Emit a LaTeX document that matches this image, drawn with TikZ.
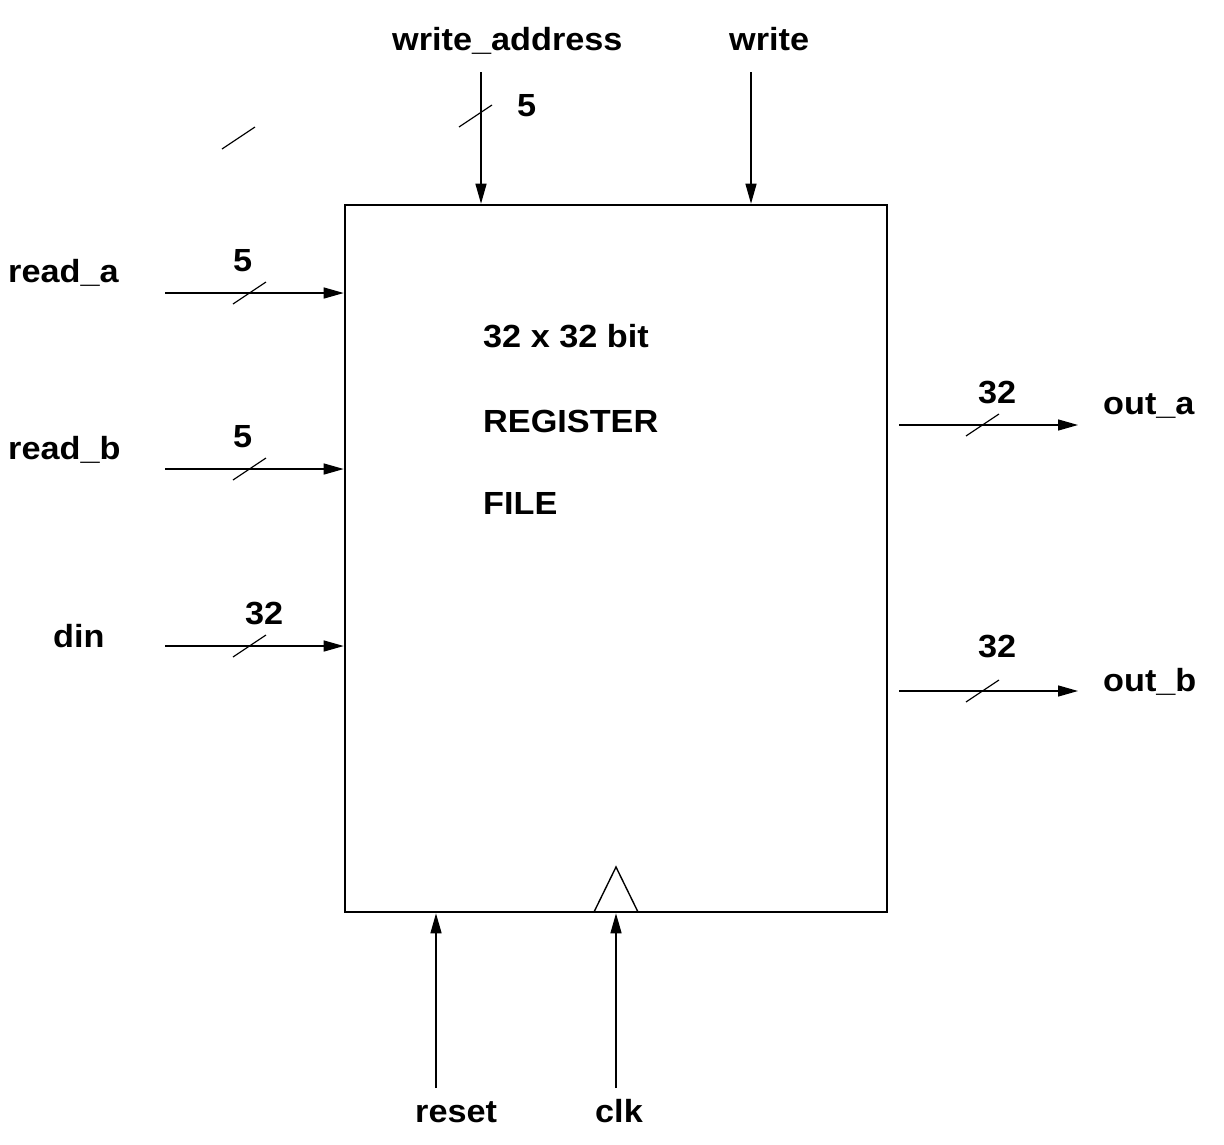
\documentclass[tikz,border=0pt]{standalone}
\usepackage{fontspec}
\setmainfont{Liberation Sans}[FakeStretch=1.07]
\usetikzlibrary{arrows.meta}
\begin{document}
\begin{tikzpicture}[x=1pt,y=-1pt,
  lbl/.style={anchor=base west,inner sep=0pt,font=\fontsize{32}{38}\selectfont\bfseries},
  sig/.style={line width=1.4pt,-{Triangle[length=20pt,width=11pt]}},
  bus/.style={line width=1.2pt},
  blk/.style={draw,line width=2.6pt,rectangle,minimum width=542pt,minimum height=707pt,inner sep=0pt}]
\useasboundingbox (0,0) rectangle (1224,1144);
\node[blk] (box) at (616,558.5) {};
% inner texts
\node[lbl] (t1) at (483,347) {32 x 32 bit};
\node[lbl] (t2) at (483,432) {REGISTER};
\node[lbl] (t3) at (483,514) {FILE};
% top inputs
\coordinate (wa) at (481,72);
\coordinate (wr) at (751,72);
\draw[sig] (wa) -- (wa |- box.north);
\draw[sig] (wr) -- (wr |- box.north);
\draw[bus] (459,127) -- (492,105);
\node[lbl] (wal) at (392,50) {write\_address};
\node[lbl] (wrl) at (729,50) {write};
\node[lbl] (wan) at (517,116) {5};
% stray slash
\draw[bus] (222,149) -- (255,127);
% left inputs
\coordinate (ra) at (165,293);
\coordinate (rb) at (165,469);
\coordinate (di) at (165,646);
\draw[sig] (ra) -- (ra -| box.west);
\draw[sig] (rb) -- (rb -| box.west);
\draw[sig] (di) -- (di -| box.west);
\draw[bus] (233,304) -- (266,282);
\draw[bus] (233,480) -- (266,458);
\draw[bus] (233,657) -- (266,635);
\node[lbl] (ral) at (8,282) {read\_a};
\node[lbl] (rbl) at (8,459) {read\_b};
\node[lbl] (dil) at (53,647) {din};
\node[lbl] (ran) at (233,271) {5};
\node[lbl] (rbn) at (233,447) {5};
\node[lbl] (din) at (245,624) {32};
% right outputs
\coordinate (oa) at (899,425);
\coordinate (ob) at (899,691);
\coordinate (oae) at (1078,425);
\coordinate (obe) at (1078,691);
\draw[sig] (oa) -- (oae);
\draw[sig] (ob) -- (obe);
\draw[bus] (966,436) -- (999,414);
\draw[bus] (966,702) -- (999,680);
\node[lbl] (oal) at (1103,414) {out\_a};
\node[lbl] (obl) at (1103,691) {out\_b};
\node[lbl] (oan) at (978,403) {32};
\node[lbl] (obn) at (978,657) {32};
% bottom inputs
\coordinate (rs) at (436,1088);
\coordinate (ck) at (616,1088);
\draw[sig] (rs) -- (rs |- box.south);
\draw[sig] (ck) -- (ck |- box.south);
\draw[line width=1.4pt,line join=miter] (594,912) -- (616,867) -- (638,912);
\node[lbl] (rsl) at (415,1122) {reset};
\node[lbl] (ckl) at (595,1122) {clk};
\end{tikzpicture}
\end{document}
